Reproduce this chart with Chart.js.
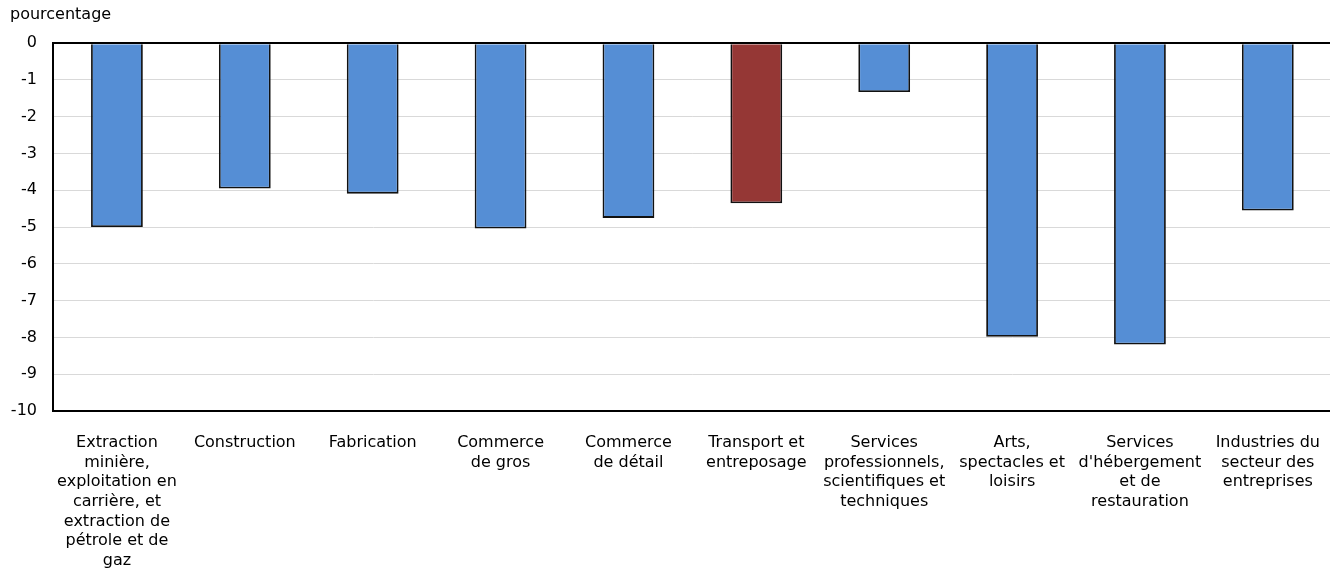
<!DOCTYPE html>
<html>
<head>
<meta charset="utf-8">
<script src="https://cdn.jsdelivr.net/npm/chart.js@4.4.0/dist/chart.umd.min.js"></script>
<style>
  html, body { margin:0; padding:0; background:#fff; overflow:hidden; }
  #wrap { width:1334px; height:570px; position:relative; }
</style>
</head>
<body>
<div id="wrap"><canvas id="chart"></canvas></div>
<script>
// ===============================
// DATA
// ===============================
const categories = [
  ["Extraction", "minière,", "exploitation en", "carrière, et", "extraction de", "pétrole et de", "gaz"],
  ["Construction"],
  ["Fabrication"],
  ["Commerce", "de gros"],
  ["Commerce", "de détail"],
  ["Transport et", "entreposage"],
  ["Services", "professionnels,", "scientifiques et", "techniques"],
  ["Arts,", "spectacles et", "loisirs"],
  ["Services", "d'hébergement", "et de", "restauration"],
  ["Industries du", "secteur des", "entreprises"]
];
const values = [-5.0, -3.95, -4.09, -5.04, -4.75, -4.35, -1.33, -7.98, -8.19, -4.55];
const highlighted = [5]; // Transport et entreposage

const yTicks = [0, -1, -2, -3, -4, -5, -6, -7, -8, -9, -10];

const BLUE = '#558ED5';
const RED = '#953735';
const FONT = "'DejaVu Sans', Verdana, sans-serif";

function initChart(){
  const ctx = document.getElementById("chart");

  new Chart(ctx, {
    type:'bar',
    data:{
      labels: categories,
      datasets:[{
        data: values,
        backgroundColor: values.map((v,i) => highlighted.includes(i) ? RED : BLUE),
        borderColor:'#111',
        borderWidth:1.8,
        barPercentage:0.405,
        categoryPercentage:1
      }]
    },
    options:{
      responsive:true,
      maintainAspectRatio:false,
      animation:false,
      layout:{ padding:{ top:0, right:0, left:10, bottom:0 } },
      plugins:{
        legend:{ display:false },
        tooltip:{ enabled:false },
        title:{
          display:true,
          text:'pourcentage',
          align:'start',
          color:'#000',
          font:{ family:FONT, size:16, weight:'normal', lineHeight:1.2 },
          padding:{ top:5, bottom:19 }
        }
      },
      scales:{
        x:{
          ticks:{
            color:'#000',
            font:{ family:FONT, size:16, lineHeight:1.23 },
            maxRotation:0,
            minRotation:0,
            autoSkip:false,
            padding:14
          },
          grid:{ display:false },
          border:{ display:false },
          afterFit(scale){ scale.height = 159; }
        },
        y:{
          min:-10,
          max:0,
          afterBuildTicks(scale){
            scale.ticks = yTicks.map(v => ({ value:v }));
          },
          ticks:{
            color:'#000',
            font:{ family:FONT, size:16 },
            padding:16
          },
          grid:{
            color: c => (c.tick.value === 0 || c.tick.value === -10) ? '#000' : '#d9d9d9',
            lineWidth: c => (c.tick.value === 0 || c.tick.value === -10) ? 2 : 1,
            drawTicks:false
          },
          border:{ display:true, color:'#000', width:2 },
          afterFit(scale){ scale.width = 43; }
        }
      }
    }
  });
}

initChart();
</script>
</body>
</html>
